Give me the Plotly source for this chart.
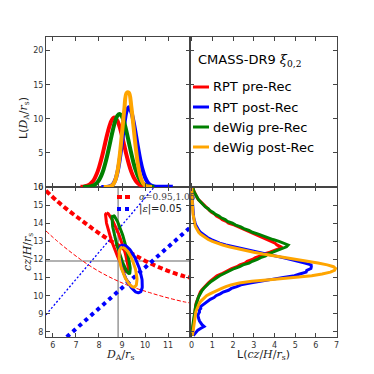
import numpy as np
import plotly.graph_objects as go

## Fits shown in every panel (legend order)
series_names = ["RPT pre-Rec", "RPT post-Rec", "deWig pre-Rec", "deWig post-Rec"]
series_colors = ["#ff0000", "#0000ff", "#008000", "#ffa500"]

## Top left: L(D_A/r_s)
da_grid = [7.0, 7.1, 7.2, 7.3, 7.4, 7.5, 7.6, 7.7, 7.8, 7.9,
           8.0, 8.1, 8.2, 8.3, 8.4, 8.5, 8.6, 8.7, 8.8, 8.9,
           9.0, 9.1, 9.2, 9.3, 9.4, 9.5, 9.6, 9.7, 9.8, 9.9,
           10.0, 10.1, 10.2, 10.3, 10.4, 10.5, 10.6, 10.7, 10.8, 10.9,
           11.0, 11.1, 11.2, 11.3]
N = None
da_rpt_pre = [N, N, 0.02, 0.05, 0.10, 0.21, 0.40, 0.71, 1.19, 1.90,
              2.86, 4.06, 5.45, 6.92, 8.30, 9.40, 10.06, 10.17, 9.72, 8.78,
              7.49, 6.04, 4.60, 3.31, 2.25, 1.45, 0.88, 0.50, 0.27, 0.14,
              0.07, 0.03, 0.01, N, N, N, N, N, N, N,
              N, N, N, N]
da_rpt_post = [N, N, N, N, N, N, N, N, N, N,
               N, 0.00, 0.00, 0.01, 0.04, 0.13, 0.38, 0.97, 2.13, 4.02,
               6.55, 9.21, 11.16, 11.69, 11.03, 9.60, 7.70, 5.69, 3.88, 2.44,
               1.41, 0.75, 0.37, 0.17, 0.07, 0.05, 0.04, 0.03, 0.03, 0.04,
               0.06, 0.05, 0.02, N]
da_dewig_pre = [N, N, N, 0.01, 0.02, 0.03, 0.08, 0.16, 0.31, 0.58,
                1.01, 1.67, 2.60, 3.80, 5.24, 6.81, 8.33, 9.61, 10.45, 10.70,
                10.32, 9.38, 8.04, 6.49, 4.94, 3.54, 2.39, 1.52, 0.91, 0.51,
                0.27, 0.14, 0.06, 0.03, 0.01, N, N, N, N, N,
                N, N, N, N]
da_dewig_post = [N, N, N, N, N, N, N, N, N, N,
                 N, N, 0.00, 0.00, 0.02, 0.09, 0.31, 0.91, 2.24, 4.62,
                 7.95, 11.42, 13.80, 13.80, 11.85, 8.82, 5.66, 3.13, 1.50, 0.61,
                 0.22, 0.07, 0.02, 0.00, N, N, N, N, N, N,
                 N, N, N, N]

## Bottom right: L(cz/H/r_s), grid from 7.8 to 16.0
hz_grid = [7.8, 7.9,
           8.0, 8.1, 8.2, 8.3, 8.4, 8.5, 8.6, 8.7, 8.8, 8.9,
           9.0, 9.1, 9.2, 9.3, 9.4, 9.5, 9.6, 9.7, 9.8, 9.9,
           10.0, 10.1, 10.2, 10.3, 10.4, 10.5, 10.6, 10.7, 10.8, 10.9,
           11.0, 11.1, 11.2, 11.3, 11.4, 11.5, 11.6, 11.7, 11.8, 11.9,
           12.0, 12.1, 12.2, 12.3, 12.4, 12.5, 12.6, 12.7, 12.8, 12.9,
           13.0, 13.1, 13.2, 13.3, 13.4, 13.5, 13.6, 13.7, 13.8, 13.9,
           14.0, 14.1, 14.2, 14.3, 14.4, 14.5, 14.6, 14.7, 14.8, 14.9,
           15.0, 15.1, 15.2, 15.3, 15.4, 15.5, 15.6, 15.7, 15.8, 15.9,
           16.0]
hz_rpt_pre = [0.02, 0.03,
              0.03, 0.04, 0.05, 0.05, 0.06, 0.07, 0.08, 0.09, 0.10, 0.11,
              0.12, 0.13, 0.15, 0.16, 0.18, 0.20, 0.22, 0.25, 0.28, 0.30,
              0.34, 0.38, 0.42, 0.48, 0.55, 0.62, 0.70, 0.80, 0.90, 1.00,
              1.12, 1.22, 1.43, 1.58, 1.78, 1.93, 2.18, 2.33, 2.57, 2.68,
              2.93, 3.08, 3.33, 3.47, 3.78, 3.98, 4.22, 4.30, 4.12, 4.03,
              3.83, 3.68, 3.42, 3.28, 3.02, 2.88, 2.62, 2.47, 2.22, 2.07,
              1.78, 1.67, 1.48, 1.37, 1.20, 1.12, 0.96, 0.87, 0.73, 0.66,
              0.56, 0.47, 0.40, 0.33, 0.27, 0.22, 0.17, 0.13, 0.10, 0.07,
              0.05]
hz_rpt_post = [0.08, 0.15,
               0.22, 0.30, 0.45, 0.60, 0.50, 0.42, 0.38, 0.35, 0.32, 0.30,
               0.33, 0.38, 0.36, 0.44, 0.43, 0.55, 0.66, 0.83, 0.90, 1.08,
               1.18, 1.38, 1.52, 1.78, 1.92, 2.18, 2.38, 2.82, 3.28, 3.87,
               4.43, 4.97, 5.22, 5.53, 5.56, 5.76, 5.78, 5.77, 5.47, 5.17,
               4.80, 4.40, 4.00, 3.55, 3.15, 2.70, 2.30, 1.95, 1.65, 1.35,
               1.12, 0.95, 0.78, 0.64, 0.50, 0.42, 0.35, 0.29, 0.24, 0.20,
               0.17, 0.14, 0.12, 0.10, 0.09, 0.08, 0.07, 0.06, 0.05, 0.05,
               0.04, 0.04, 0.03, 0.03, 0.03, 0.02, 0.02, 0.02, 0.02, 0.01,
               0.01]
hz_dewig_pre = [0.02, 0.02,
                0.03, 0.04, 0.04, 0.05, 0.06, 0.07, 0.08, 0.09, 0.10, 0.11,
                0.12, 0.14, 0.15, 0.17, 0.19, 0.21, 0.23, 0.26, 0.29, 0.32,
                0.36, 0.40, 0.45, 0.51, 0.58, 0.66, 0.75, 0.85, 0.96, 1.08,
                1.20, 1.35, 1.52, 1.70, 1.87, 2.06, 2.32, 2.48, 2.77, 2.93,
                3.17, 3.33, 3.57, 3.68, 3.92, 4.13, 4.42, 4.58, 4.66, 4.45,
                4.22, 3.93, 3.72, 3.43, 3.22, 2.93, 2.77, 2.52, 2.37, 2.13,
                1.97, 1.73, 1.62, 1.43, 1.32, 1.13, 1.04, 0.88, 0.80, 0.66,
                0.58, 0.47, 0.41, 0.33, 0.28, 0.22, 0.17, 0.13, 0.10, 0.07,
                0.05]
hz_dewig_post = [0.04, 0.05,
                 0.06, 0.07, 0.08, 0.09, 0.10, 0.11, 0.12, 0.13, 0.14, 0.15,
                 0.17, 0.20, 0.23, 0.26, 0.29, 0.33, 0.38, 0.45, 0.53, 0.62,
                 0.72, 0.88, 1.05, 1.25, 1.45, 1.65, 1.90, 2.30, 2.90, 3.90,
                 5.00, 5.80, 6.30, 6.70, 6.90, 6.95, 6.85, 6.55, 6.10, 5.55,
                 4.95, 4.40, 3.90, 3.45, 3.00, 2.55, 2.15, 1.80, 1.50, 1.22,
                 1.00, 0.80, 0.65, 0.52, 0.42, 0.34, 0.28, 0.23, 0.19, 0.16,
                 0.14, 0.12, 0.10, 0.09, 0.08, 0.07, 0.06, 0.05, 0.05, 0.04,
                 0.04, 0.03, 0.03, 0.03, 0.02, 0.02, 0.02, 0.02, 0.01, 0.01,
                 0.01]

## Bottom left: 1-sigma contours (centre, offset to top point, half width at centre)
ell_cx = [8.78, 9.38, 8.96, 9.26]
ell_cy = [12.94, 11.48, 12.83, 11.57]
ell_ux = [-0.45, -0.33, -0.35, -0.25]
ell_uy = [1.64, 1.32, 1.61, 1.10]
ell_w = [0.21, 0.38, 0.19, 0.30]

## Fiducial values and the alpha / epsilon guide lines
fid_da = 8.83
fid_hz = 11.92
alpha_x = [5.7, 6.2, 6.7, 7.2, 7.7, 8.2, 8.7, 9.2, 9.7, 10.2, 10.7, 11.2, 11.7, 11.95]
alpha_hi_y = [15.80, 15.20, 14.68, 14.20, 13.72, 13.28, 12.88, 12.50, 12.13, 11.80, 11.52, 11.27, 11.07, 11.00]
alpha_lo_y = [13.57, 13.00, 12.48, 12.00, 11.57, 11.20, 10.88, 10.60, 10.37, 10.17, 9.98, 9.81, 9.66, 9.60]
eps_lo_x = [6.60, 11.95]
eps_lo_y = [7.72, 13.76]
eps_hi_x = [5.7, 10.4]
eps_hi_y = [8.95, 16.0]

fig = go.Figure()

# top left
for name, color, vals in zip(series_names, series_colors,
                             [da_rpt_pre, da_rpt_post, da_dewig_pre, da_dewig_post]):
    fig.add_trace(go.Scatter(x=da_grid, y=vals, xaxis="x2", yaxis="y2", mode="lines",
                             line=dict(color=color, width=4, shape="spline"),
                             name=name, showlegend=False, hoverinfo="skip"))

# bottom right
for name, color, vals in zip(series_names, series_colors,
                             [hz_rpt_pre, hz_rpt_post, hz_dewig_pre, hz_dewig_post]):
    fig.add_trace(go.Scatter(x=vals, y=hz_grid, xaxis="x3", yaxis="y3", mode="lines",
                             line=dict(color=color, width=3),
                             name=name, showlegend=False, hoverinfo="skip"))

# bottom left guide lines
fig.add_trace(go.Scatter(x=alpha_x, y=alpha_hi_y, mode="lines", showlegend=False,
                         line=dict(color="red", width=4, dash="5px,3px", shape="spline")))
fig.add_trace(go.Scatter(x=alpha_x, y=alpha_lo_y, mode="lines", showlegend=False,
                         line=dict(color="red", width=1, dash="4px,2px", shape="spline")))
fig.add_trace(go.Scatter(x=eps_lo_x, y=eps_lo_y, mode="lines", showlegend=False,
                         line=dict(color="blue", width=4, dash="dot")))
fig.add_trace(go.Scatter(x=eps_hi_x, y=eps_hi_y, mode="lines", showlegend=False,
                         line=dict(color="blue", width=1.3, dash="2px,2px")))

# contours
t = np.linspace(0, 2 * np.pi, 120)
for i in [0, 2, 1, 3]:
    ex = ell_cx[i] + ell_ux[i] * np.cos(t) + ell_w[i] * np.sin(t)
    ey = ell_cy[i] + ell_uy[i] * np.cos(t)
    fig.add_trace(go.Scatter(x=ex, y=ey, mode="lines", showlegend=False, hoverinfo="skip",
                             line=dict(color=series_colors[i], width=3)))

# empty top-right frame
fig.add_trace(go.Scatter(x=[None], y=[None], xaxis="x4", yaxis="y4", showlegend=False))

# fiducial lines
fig.add_shape(type="line", xref="x", yref="y domain", x0=fid_da, x1=fid_da, y0=0, y1=1,
              line=dict(color="#999999", width=1.5), layer="below")
fig.add_shape(type="line", xref="x domain", yref="y", x0=0, x1=1, y0=fid_hz, y1=fid_hz,
              line=dict(color="#999999", width=1.5), layer="below")

axis_style = dict(showline=True, linecolor="#444", linewidth=1, ticks="inside", ticklen=4,
                  tickwidth=1, tickcolor="#444", mirror="ticks", showgrid=False, zeroline=False,
                  tickfont=dict(size=8, color="#333", family="DejaVu Sans"))
xs = 144 / 291

# the page adds an 8px body margin, so the figure is 366px and sits at (8, 8)
fig.update_layout(
    width=366, height=366,
    margin=dict(l=38, r=37, t=29, b=37),
    paper_bgcolor="white", plot_bgcolor="white",
    showlegend=False,
    xaxis=dict(axis_style, domain=[0, xs], range=[5.7, 11.95], tickvals=list(range(6, 12)), anchor="y"),
    yaxis=dict(axis_style, domain=[0, 0.5], range=[7.72, 16.0], tickvals=list(range(8, 17)), anchor="x"),
    xaxis2=dict(axis_style, domain=[0, xs], range=[5.7, 11.95], tickvals=list(range(6, 12)),
                anchor="y2", showticklabels=False),
    yaxis2=dict(axis_style, domain=[0.5, 1], range=[0, 22], tickvals=[0, 5, 10, 15, 20], anchor="x2"),
    xaxis3=dict(axis_style, domain=[xs, 1], range=[-0.08, 7.02], tickvals=list(range(0, 8)), anchor="y3"),
    yaxis3=dict(axis_style, domain=[0, 0.5], range=[7.72, 16.0], tickvals=list(range(8, 17)),
                anchor="x3", showticklabels=False),
    xaxis4=dict(axis_style, domain=[xs, 1], range=[-0.08, 7.02], tickvals=list(range(0, 8)),
                anchor="y4", showticklabels=False),
    yaxis4=dict(axis_style, domain=[0.5, 1], range=[0, 22], tickvals=[0, 5, 10, 15, 20],
                anchor="x4", showticklabels=False),
)


# helpers: paper coordinates from pixel positions in the 374px screenshot
def px(v):
    return (v - 46) / 291


def py(v):
    return 1 - (v - 37) / 300


def label(x, y, text, size, family, color="#222", angle=0, xanchor="center"):
    fig.add_annotation(xref="paper", yref="paper", x=px(x), y=py(y), text=text, showarrow=False,
                       textangle=angle, xanchor=xanchor, yanchor="middle",
                       font=dict(size=size, family=family, color=color))


serif = "font-family:'DejaVu Serif'"
# axis titles
label(24, 118, f"L(<span style=\"{serif}\"><i>D</i><sub>A</sub>/<i>r</i><sub>s</sub></span>)",
      11, "DejaVu Sans", angle=-90)
label(28, 252, "<i>cz</i>/<i>H</i>/<i>r</i><sub>s</sub>", 11, "DejaVu Serif", angle=-90)
label(120, 355, "<i>D</i><sub>A</sub>/<i>r</i><sub>s</sub>", 11, "DejaVu Serif")
label(263, 355, f"L(<span style=\"{serif}\"><i>cz</i>/<i>H</i>/<i>r</i><sub>s</sub></span>)",
      11, "DejaVu Sans")

# main legend in the empty panel
label(196, 61, f"CMASS-DR9 <span style=\"{serif}\"><i>ξ</i><sub>0,2</sub></span>",
      13, "DejaVu Sans", color="black", xanchor="left")
for k, (name, color) in enumerate(zip(series_names, series_colors)):
    yy = 87 + 20 * k
    fig.add_shape(type="line", xref="paper", yref="paper", x0=px(193), x1=px(209),
                  y0=py(yy), y1=py(yy), line=dict(color=color, width=3))
    label(211, yy, name, 13, "DejaVu Sans", color="black", xanchor="left")

# guide-line legend
fig.add_shape(type="line", xref="paper", yref="paper", x0=px(117), x1=px(130), y0=py(197), y1=py(197),
              line=dict(color="red", width=4, dash="5px,3px"))
fig.add_shape(type="line", xref="paper", yref="paper", x0=px(117), x1=px(130), y0=py(209), y1=py(209),
              line=dict(color="blue", width=4, dash="dot"))
label(137, 197, "<i>α</i>=0.95,1.05", 9, "DejaVu Serif", color="#444", xanchor="left")
label(137, 209, f"|<span style=\"{serif}\"><i>ε</i></span>|=0.05", 10, "DejaVu Sans", xanchor="left")

fig.write_html("out.html")
